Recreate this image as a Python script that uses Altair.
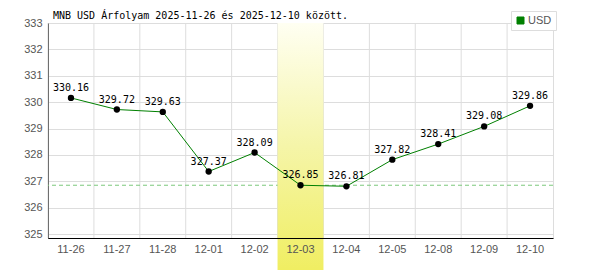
import altair as alt
import pandas as pd

dates = ["11-26", "11-27", "11-28", "12-01", "12-02", "12-03", "12-04", "12-05", "12-08", "12-09", "12-10"]
values = [330.16, 329.72, 329.63, 327.37, 328.09, 326.85, 326.81, 327.82, 328.41, 329.08, 329.86]
highlight_date = "12-03"
ref_value = 326.85
y_ticks = [325, 326, 327, 328, 329, 330, 331, 332, 333]
series_name = "USD"
title_text = "MNB USD Árfolyam 2025-11-26 és 2025-12-10 között."

df = pd.DataFrame({"date": dates, "value": values, "series": series_name})
df["label"] = [f"{v:.2f}" for v in values]
hl = pd.DataFrame({"date": [highlight_date]})
ref = pd.DataFrame({"ref": [ref_value]})

W, H = 505, 215

def xenc(bp=None):
    kw = {}
    if bp is not None:
        kw["bandPosition"] = bp
    return alt.X("date:N", sort=dates, scale=alt.Scale(domain=dates, paddingInner=0, paddingOuter=0),
                 axis=alt.Axis(title=None, grid=False, ticks=False, labelPadding=5, domainColor="black",
                               labelFont="Liberation Sans", labelFontSize=11, labelColor="#555555",
                               labelAngle=0, zindex=1), **kw)

yscale = alt.Scale(domain=[324.85, 333], nice=False, zero=False)
yaxis = alt.Axis(title=None, values=y_ticks, grid=True, gridColor="#dddddd", ticks=False, labelPadding=6,
                 domainColor="black", labelFont="Liberation Sans", labelFontSize=11, labelColor="#555555",
                 format="d")

vgrid = alt.Chart(df).mark_rule(color="#dddddd", strokeWidth=1).encode(x=xenc(0))

dashed = alt.Chart(ref).mark_rule(color="#7cc87c", strokeDash=[4, 3], strokeWidth=1).encode(
    y=alt.Y("ref:Q", scale=yscale, axis=yaxis)
)

rect = alt.Chart(hl).mark_rect(
    color=alt.Gradient(gradient="linear",
                       stops=[alt.GradientStop(color="#fffff2", offset=0),
                              alt.GradientStop(color="#f5f5a8", offset=0.5),
                              alt.GradientStop(color="#f0ee62", offset=1)],
                       x1=0, x2=0, y1=0, y2=1)
).encode(x=xenc(), y=alt.value(0), y2=alt.value(247))

line = alt.Chart(df).mark_line(strokeWidth=1).encode(
    x=xenc(),
    y=alt.Y("value:Q", scale=yscale, axis=yaxis),
    color=alt.Color("series:N", scale=alt.Scale(domain=[series_name], range=["#008000"]),
                    legend=alt.Legend(title=None, orient="none", legendX=463, legendY=-12,
                                      symbolType="square", symbolSize=49, symbolFillColor="#008000",
                                      symbolStrokeColor="#333333", symbolStrokeWidth=1,
                                      labelFont="Liberation Sans", labelFontSize=11, labelColor="#555555",
                                      strokeColor="#dddddd", fillColor="white", padding=4, labelOffset=2)),
)

points = alt.Chart(df).mark_circle(size=40, color="black", opacity=1).encode(
    x=xenc(), y=alt.Y("value:Q", scale=yscale, axis=yaxis)
)

labels = alt.Chart(df).mark_text(font="DejaVu Sans Mono", fontSize=10, color="black", dy=-7,
                                 baseline="alphabetic", align="center").encode(
    x=xenc(), y=alt.Y("value:Q", scale=yscale, axis=yaxis), text="label:N"
)

chart = alt.layer(vgrid, dashed, rect, line, points, labels).properties(
    width=W, height=H,
    title=alt.TitleParams(title_text, anchor="start", frame="group", font="DejaVu Sans Mono", fontSize=10,
                          fontWeight="normal", color="black", dx=5, dy=13, offset=3),
    padding={"left": 48, "top": 23, "right": 47, "bottom": 32},
    autosize=alt.AutoSizeParams(type="none"),
    background="white",
).configure_view(stroke="#dddddd", strokeWidth=1)

chart.save("out.html", embed_options={"renderer": "svg", "actions": False})
